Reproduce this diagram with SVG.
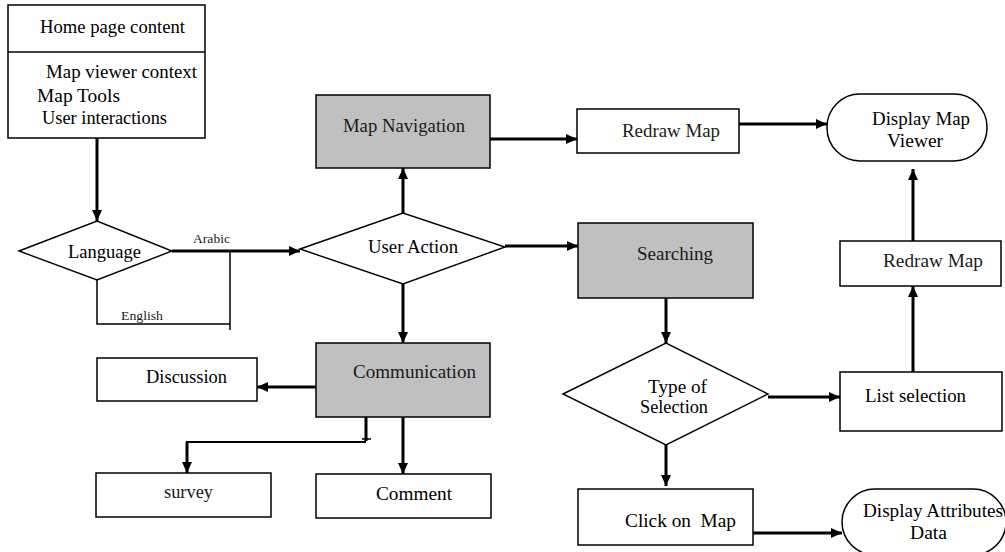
<svg xmlns="http://www.w3.org/2000/svg" width="1005" height="552" viewBox="0 0 1005 552">
  <defs>
    <marker id="arrow" markerUnits="userSpaceOnUse" markerWidth="12" markerHeight="10" refX="11" refY="5" orient="auto">
      <path d="M0,0 L11,5 L0,10 z" fill="#000"/>
    </marker>
    <style>
      .box { fill: #fff; stroke: #000; stroke-width: 1.5; }
      .grey { fill: #c0c0c0; stroke: #000; stroke-width: 1.5; }
      .dia { fill: #fff; stroke: #000; stroke-width: 1.4; }
      text { font-family: "Liberation Serif", "Times New Roman", serif; font-size: 19px; fill: #000; }
      .sm { font-size: 12px; }
      .lt { fill: #1a1a1a; }
      .conn { fill: none; stroke: #000; stroke-width: 3; }
      .thin { fill: none; stroke: #000; stroke-width: 1.5; }
      .arr { marker-end: url(#arrow); }
    </style>
  </defs>

  <rect width="1005" height="552" fill="#fff"/>

  <!-- connectors -->
  <g id="connectors">
    <line class="conn arr" x1="97" y1="138" x2="97" y2="221"/>
    <line class="conn arr" x1="172" y1="251" x2="300" y2="251"/>
    <polyline class="thin" points="97,280 97,324 230,324"/>
    <line class="thin" x1="230" y1="251" x2="230" y2="330"/>
    <line class="conn arr" x1="403" y1="213" x2="403" y2="168"/>
    <line class="conn arr" x1="490" y1="139" x2="577" y2="139"/>
    <line class="conn arr" x1="739" y1="124" x2="827" y2="124"/>
    <line class="conn arr" x1="505" y1="246" x2="578" y2="246"/>
    <line class="conn arr" x1="403" y1="284" x2="403" y2="343"/>
    <line class="conn arr" x1="316" y1="387" x2="257" y2="387"/>
    <line class="conn" x1="366" y1="417" x2="366" y2="441"/>
    <line class="thin" x1="362" y1="439" x2="371" y2="439"/>
    <polyline class="thin" points="366,442 187,442 187,446" style="stroke-width:2"/>
    <line class="conn arr" x1="187" y1="442" x2="187" y2="473"/>
    <line class="conn arr" x1="403" y1="417" x2="403" y2="474"/>
    <line class="conn arr" x1="666" y1="298" x2="666" y2="343"/>
    <line class="conn arr" x1="768" y1="397" x2="840" y2="397"/>
    <line class="conn arr" x1="666" y1="445" x2="666" y2="486"/>
    <line class="conn arr" x1="753" y1="533" x2="842" y2="533"/>
    <line class="conn arr" x1="913" y1="372" x2="913" y2="286"/>
    <line class="conn arr" x1="913" y1="241" x2="913" y2="169"/>
  </g>

  <!-- home page content box -->
  <g id="home">
    <rect class="box" x="8" y="5" width="197" height="133"/>
    <line x1="8" y1="52" x2="205" y2="52" stroke="#000" stroke-width="1.5"/>
    <text x="40" y="33" textLength="145" lengthAdjust="spacingAndGlyphs">Home page content</text>
    <text x="46" y="78" textLength="151" lengthAdjust="spacingAndGlyphs">Map viewer context</text>
    <text x="37" y="102" textLength="83" lengthAdjust="spacingAndGlyphs">Map Tools</text>
    <text x="42" y="124" textLength="125" lengthAdjust="spacingAndGlyphs">User interactions</text>
  </g>

  <g id="language">
    <polygon class="dia" points="19,251 97,221 172,251 97,280"/>
    <text x="68" y="258" textLength="73" lengthAdjust="spacingAndGlyphs">Language</text>
    <text class="sm lt" x="193" y="243" textLength="37" lengthAdjust="spacingAndGlyphs">Arabic</text>
    <text class="sm lt" x="121" y="320" textLength="42" lengthAdjust="spacingAndGlyphs">English</text>
  </g>

  <g id="user-action">
    <polygon class="dia" points="300,249 403,213 505,247 403,284"/>
    <text x="368" y="253" textLength="90" lengthAdjust="spacingAndGlyphs">User Action</text>
  </g>

  <g id="map-navigation">
    <rect class="grey" x="316" y="95" width="174" height="73"/>
    <text class="lt" x="343" y="132" textLength="122" lengthAdjust="spacingAndGlyphs">Map Navigation</text>
  </g>

  <g id="redraw-map-top">
    <rect class="box" x="577" y="109" width="162" height="44"/>
    <text class="lt" x="622" y="137" textLength="98" lengthAdjust="spacingAndGlyphs">Redraw Map</text>
  </g>

  <g id="display-map-viewer">
    <rect class="box" x="827" y="94" width="160" height="67" rx="33" ry="33"/>
    <text x="872" y="125" textLength="98" lengthAdjust="spacingAndGlyphs">Display Map</text>
    <text x="887" y="147" textLength="56" lengthAdjust="spacingAndGlyphs">Viewer</text>
  </g>

  <g id="searching">
    <rect class="grey" x="578" y="223" width="175" height="75"/>
    <text class="lt" x="637" y="260" textLength="76" lengthAdjust="spacingAndGlyphs">Searching</text>
  </g>

  <g id="redraw-map-right">
    <rect class="box" x="840" y="241" width="161" height="45"/>
    <text class="lt" x="883" y="267" textLength="100" lengthAdjust="spacingAndGlyphs">Redraw Map</text>
  </g>

  <g id="type-of-selection">
    <polygon class="dia" points="563,394 666,343 768,394 666,445"/>
    <text x="648" y="393" textLength="59" lengthAdjust="spacingAndGlyphs">Type of</text>
    <text x="640" y="413" textLength="68" lengthAdjust="spacingAndGlyphs">Selection</text>
  </g>

  <g id="list-selection">
    <rect class="box" x="840" y="372" width="162" height="59"/>
    <text x="865" y="402" textLength="101" lengthAdjust="spacingAndGlyphs">List selection</text>
  </g>

  <g id="click-on-map">
    <rect class="box" x="578" y="489" width="175" height="56"/>
    <text x="625" y="527" textLength="111" lengthAdjust="spacingAndGlyphs" xml:space="preserve">Click on  Map</text>
  </g>

  <g id="display-attributes-data">
    <rect class="box" x="842" y="489" width="164" height="66" rx="33" ry="33"/>
    <text x="863" y="517" textLength="140" lengthAdjust="spacingAndGlyphs">Display Attributes</text>
    <text x="910" y="539" textLength="37" lengthAdjust="spacingAndGlyphs">Data</text>
  </g>

  <g id="communication">
    <rect class="grey" x="316" y="343" width="174" height="74"/>
    <text class="lt" x="353" y="378" textLength="123" lengthAdjust="spacingAndGlyphs">Communication</text>
  </g>

  <g id="discussion">
    <rect class="box" x="97" y="358" width="160" height="43"/>
    <text x="146" y="383" textLength="81" lengthAdjust="spacingAndGlyphs">Discussion</text>
  </g>

  <g id="survey">
    <rect class="box" x="96" y="473" width="175" height="44"/>
    <text class="lt" x="164" y="498" textLength="49" lengthAdjust="spacingAndGlyphs">survey</text>
  </g>

  <g id="comment">
    <rect class="box" x="316" y="474" width="175" height="44"/>
    <text x="376" y="500" textLength="76" lengthAdjust="spacingAndGlyphs">Comment</text>
  </g>
</svg>
